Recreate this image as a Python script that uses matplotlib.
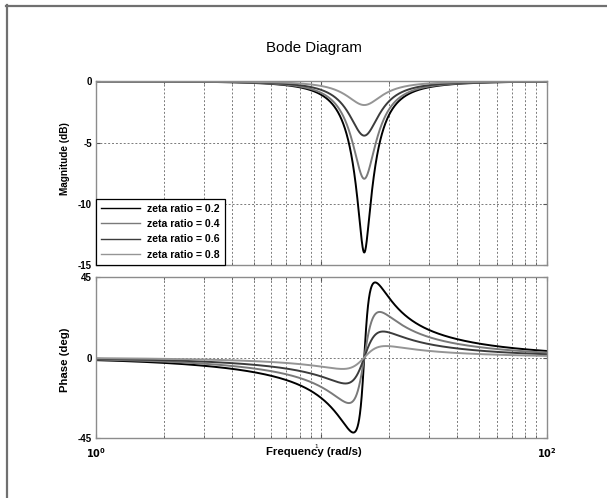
import numpy as np
import matplotlib
matplotlib.use("Agg")
import matplotlib.pyplot as plt
from matplotlib.lines import Line2D
from matplotlib.ticker import LogLocator, NullFormatter, FixedLocator

# Notch filter parameters
zeta_ratios = [0.2, 0.4, 0.6, 0.8]
legend_labels = ["zeta ratio = 0.2", "zeta ratio = 0.4",
                 "zeta ratio = 0.6", "zeta ratio = 0.8"]
line_colors = ["#000000", "#7a7a7a", "#3c3c3c", "#959595"]
natural_freq = 15.5      # rad/s, notch centre
pole_damping = 0.25      # damping of the denominator

mag_ticks = [-15, -10, -5, 0]
phase_ticks = [-45, 0, 45]
freq_ticks = [1, 10, 100]

plt.rcParams["font.family"] = ["Liberation Sans", "DejaVu Sans"]

w = np.logspace(0, 2, 3000)
s = 1j * w

fig = plt.figure(figsize=(6.07, 4.98), dpi=100)
fig.patch.set_facecolor("white")

W, H = 607.0, 498.0
left, right = 96 / W, 546.7 / W
ax_mag = fig.add_axes([left, 1 - 265 / H, right - left, (265 - 80.7) / H])
ax_ph = fig.add_axes([left, 1 - 438.3 / H, right - left, (438.3 - 276.7) / H])

for zr, col, lab in zip(zeta_ratios, line_colors, legend_labels):
    num = s**2 + 2 * zr * pole_damping * natural_freq * s + natural_freq**2
    den = s**2 + 2 * pole_damping * natural_freq * s + natural_freq**2
    resp = num / den
    mag_db = 20 * np.log10(np.abs(resp))
    phase = np.degrees(np.angle(resp))
    ax_mag.plot(w, mag_db, color=col, lw=1.4, label=lab)
    ax_ph.plot(w, phase, color=col, lw=1.4)

grid_kw = dict(color="#7a7a7a", linestyle=(0, (2.0, 2.0)), linewidth=0.7)
for ax, yt, ylim in ((ax_mag, mag_ticks, (-15, 0.05)),
                     (ax_ph, phase_ticks, (-45, 45))):
    ax.set_xscale("log")
    ax.set_xlim(1, 100)
    ax.set_ylim(*ylim)
    ax.set_yticks(yt)
    ax.set_yticklabels([str(v) for v in yt])
    ax.xaxis.set_major_locator(FixedLocator(freq_ticks))
    ax.xaxis.set_minor_locator(LogLocator(base=10, subs=np.arange(2, 10)))
    ax.xaxis.set_minor_formatter(NullFormatter())
    ax.grid(True, which="major", **grid_kw)
    ax.grid(True, which="minor", axis="x", **grid_kw)
    ax.tick_params(axis="both", which="both", direction="in",
                   top=True, right=True, length=3, color="#555555",
                   labelsize=7, pad=3)
    ax.tick_params(axis="x", which="minor", length=2)
    for lbl in ax.get_yticklabels():
        lbl.set_fontweight("bold")
    for sp in ax.spines.values():
        sp.set_color("#8c8c8c")
        sp.set_linewidth(1.0)
    ax.set_axisbelow(True)

ax_mag.set_xticklabels([])
ax_ph.set_xticklabels([r"$\mathbf{10^{0}}$", "", r"$\mathbf{10^{2}}$"])
ax_ph.tick_params(axis="x", labelsize=7, pad=6)

fig.text(65.2 / W, 1 - 159 / H, "Magnitude (dB)", fontsize=7.2,
         fontweight="bold", rotation=90, ha="center", va="center")
fig.text(64.5 / W, 1 - 359.5 / H, "Phase (deg)", fontsize=8.2,
         fontweight="bold", rotation=90, ha="center", va="center")

fig.text(314 / W, 1 - 452 / H, "Frequency (rad/s)", fontsize=8.2,
         fontweight="bold", ha="center", va="center")
fig.text(316 / W, 1 - 446 / H, "1", fontsize=4.5, ha="center", va="center")

fig.text(313.5 / W, 1 - 48.3 / H, "Bode Diagram", fontsize=10.8,
         ha="center", va="center")

leg = ax_mag.legend(loc="lower left", bbox_to_anchor=(0, 0), borderaxespad=0,
                    fancybox=False, framealpha=1, edgecolor="black",
                    prop={"size": 7.6, "weight": "bold"}, handlelength=3.7,
                    handletextpad=0.6, labelspacing=0.5, borderpad=0.5)
leg.get_frame().set_linewidth(0.9)
for lh in leg.get_lines():
    lh.set_linewidth(1.0)

# window frame along the left and top edges
fig.add_artist(Line2D([6.5 / W, 6.5 / W], [0, 1 - 5.5 / H],
                      transform=fig.transFigure, color="#707070", lw=1.6))
fig.add_artist(Line2D([5.7 / W, 1], [1 - 5.8 / H, 1 - 5.8 / H],
                      transform=fig.transFigure, color="#707070", lw=1.6))

fig.savefig("out.png", dpi=100, facecolor="white")
